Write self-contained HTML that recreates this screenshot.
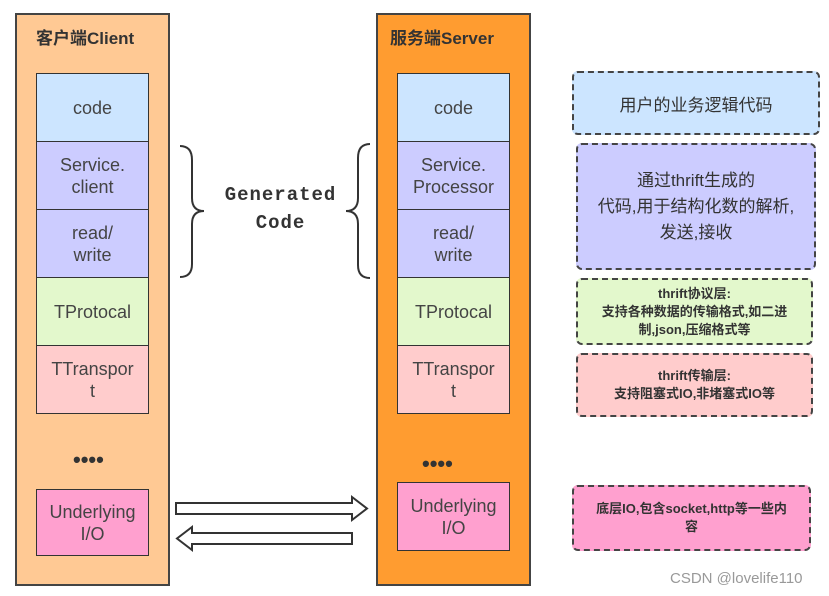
<!DOCTYPE html>
<html><head><meta charset="utf-8"><style>
body{margin:0;width:829px;height:596px;background:#fff;position:relative;overflow:hidden;font-family:"Liberation Sans","Noto Sans CJK SC",sans-serif;color:#333}
.a{position:absolute;box-sizing:border-box}
.outer{border:2px solid #444}
.cell{border:1.5px solid #333;display:flex;align-items:center;justify-content:center;text-align:center;font-size:18px;line-height:22px;color:#444}
.dash{border:2.5px dashed #444;border-radius:6px;display:flex;align-items:center;justify-content:center;text-align:center;color:#333}
.t{font-weight:bold;font-size:17px;color:#333}
</style></head><body>
<div class="a outer" style="left:15px;top:13px;width:155px;height:573px;background:#ffc994"></div>
<div class="a t" style="left:36px;top:24px">客户端Client</div>
<div class="a cell" style="left:36px;top:73px;width:113px;height:69px;background:#cce5ff">code</div>
<div class="a cell" style="left:36px;top:141px;width:113px;height:69px;background:#ccccff">Service.<br>client</div>
<div class="a cell" style="left:36px;top:209px;width:113px;height:69px;background:#ccccff">read/<br>write</div>
<div class="a cell" style="left:36px;top:277px;width:113px;height:69px;background:#e3f8cc">TProtocal</div>
<div class="a cell" style="left:36px;top:345px;width:113px;height:69px;background:#ffcccc">TTranspor<br>t</div>
<div class="a" style="left:73px;top:447px;font-size:22px;font-weight:bold;letter-spacing:0px;color:#333">••••</div>
<div class="a cell" style="left:36px;top:489px;width:113px;height:67px;background:#ffa0cf">Underlying<br>I/O</div>

<div class="a outer" style="left:376px;top:13px;width:155px;height:573px;background:#ff9c30"></div>
<div class="a t" style="left:390px;top:24px">服务端Server</div>
<div class="a cell" style="left:397px;top:73px;width:113px;height:69px;background:#cce5ff">code</div>
<div class="a cell" style="left:397px;top:141px;width:113px;height:69px;background:#ccccff">Service.<br>Processor</div>
<div class="a cell" style="left:397px;top:209px;width:113px;height:69px;background:#ccccff">read/<br>write</div>
<div class="a cell" style="left:397px;top:277px;width:113px;height:69px;background:#e3f8cc">TProtocal</div>
<div class="a cell" style="left:397px;top:345px;width:113px;height:69px;background:#ffcccc">TTranspor<br>t</div>
<div class="a" style="left:422px;top:451px;font-size:22px;font-weight:bold;color:#333">••••</div>
<div class="a cell" style="left:397px;top:482px;width:113px;height:69px;background:#ffa0cf">Underlying<br>I/O</div>

<svg class="a" style="left:0;top:0" width="829" height="596">
<path d="M180 146 Q192 146 192 160 L192 198 Q192 211 204 211 Q192 211 192 224 L192 264 Q192 277 180 277" fill="none" stroke="#333" stroke-width="2"/>
<path d="M370 144 Q358 144 358 158 L358 198 Q358 211 346 211 Q358 211 358 224 L358 265 Q358 278 370 278" fill="none" stroke="#333" stroke-width="2"/>
<path d="M176 503 L352 503 L352 497 L367 508.5 L352 520 L352 514 L176 514 Z" fill="#fff" stroke="#333" stroke-width="2"/>
<path d="M352 533 L192 533 L192 527 L177 538.5 L192 550 L192 544 L352 544 Z" fill="#fff" stroke="#333" stroke-width="2"/>
</svg>
<div class="a" style="left:218px;top:181px;width:125px;text-align:center;font-family:'Liberation Mono',monospace;font-weight:bold;font-size:19px;line-height:28px;color:#333;letter-spacing:1px">Generated<br>Code</div>

<div class="a dash" style="left:572px;top:71px;width:248px;height:64px;background:#cce5ff;font-size:17px">用户的业务逻辑代码</div>
<div class="a dash" style="left:576px;top:143px;width:240px;height:127px;background:#ccccff;font-size:17px;line-height:26px">通过thrift生成的<br>代码,用于结构化数的解析,<br>发送,接收</div>
<div class="a dash" style="left:576px;top:278px;width:237px;height:67px;background:#e3f8cc;font-size:13px;font-weight:bold;line-height:18px">thrift协议层:<br>支持各种数据的传输格式,如二进<br>制,json,压缩格式等</div>
<div class="a dash" style="left:576px;top:353px;width:237px;height:64px;background:#ffcccc;font-size:13px;font-weight:bold;line-height:18px">thrift传输层:<br>支持阻塞式IO,非堵塞式IO等</div>
<div class="a dash" style="left:572px;top:485px;width:239px;height:66px;background:#ffa0cf;font-size:13px;font-weight:bold;line-height:18px">底层IO,包含socket,http等一些内<br>容</div>
<div class="a" style="left:670px;top:570px;font-size:15px;color:#999">CSDN @lovelife110</div>
</body></html>
